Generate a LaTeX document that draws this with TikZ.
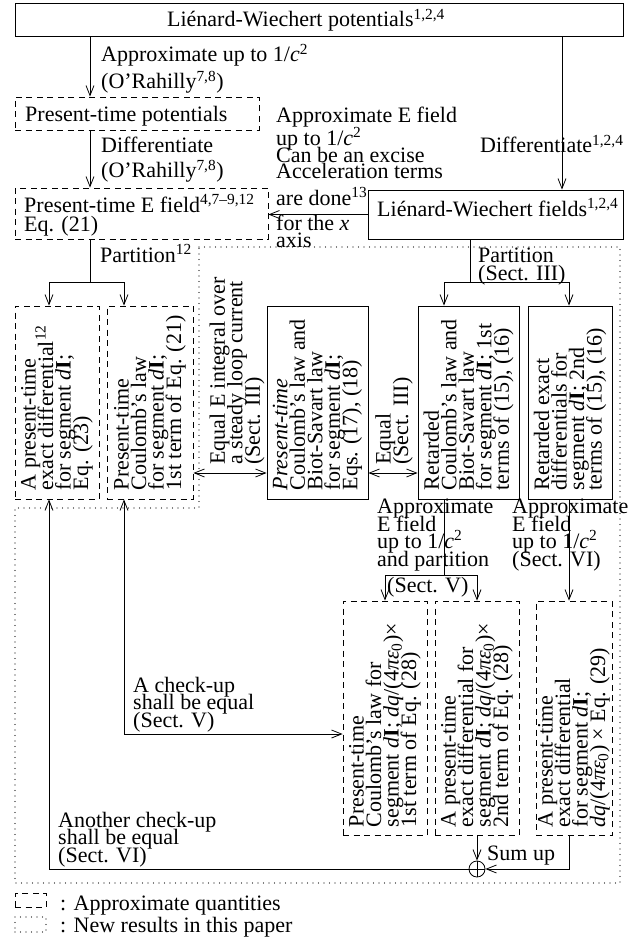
\documentclass[tikz,border=0pt]{standalone}
\usepackage{fontspec}
\setmainfont{Liberation Serif}
\usetikzlibrary{arrows.meta}
\newcommand\fsz{\fontsize{22pt}{17.5pt}\selectfont\lineskiplimit=-40pt\relax}
\newcommand\bx[6]{\node[#2, minimum width={#5-#3}, minimum height={#6-#4}] (#1) at ({(#3+#5)/2},{(#4+#6)/2}) {};}
\newcommand\csq{\textit{c}\textsuperscript{2}}
\newcommand\dI{\textit{d}\textbf{I}}
\newcommand\dqf{\textit{dq}/(4\textit{πε}\textsubscript{0})}
\begin{document}
\begin{tikzpicture}[x=1pt,y=-1pt,
  lbl/.style={font=\fsz, inner sep=0pt, anchor=base west, align=left},
  rot/.style={font=\fsz, inner sep=0pt, rotate=90, anchor=west, align=left},
  sbox/.style={draw, line width=0.8pt, inner sep=0pt},
  dbox/.style={draw, line width=0.8pt, inner sep=0pt, dash pattern=on 6pt off 4.5pt},
  newres/.style={draw, line width=1.3pt, dash pattern=on 0pt off 5.5pt, line cap=round},
  conn/.style={line width=0.8pt},
  arr/.style={conn, -{Straight Barb[length=10pt,width=8pt]}},
  darr/.style={conn, {Straight Barb[length=10pt,width=8pt]}-{Straight Barb[length=10pt,width=8pt]}}]
\useasboundingbox (0,0) rectangle (637,944);
% region of new results
\draw[newres] (199,247) -- (620,247) -- (620,883) -- (15,883) -- (15,508) -- (199,508) -- cycle;
% boxes
\bx{LWP}{sbox}{15}{3}{623}{36}
\node[lbl, anchor=base] (LWPt) at (306,27) {Liénard-Wiechert potentials\textsuperscript{1,2,4}};
\bx{PTP}{dbox}{15}{97}{259}{130}
\node[lbl] (PTPt) at (25,122) {Present-time potentials};
\bx{EF}{dbox}{15}{188}{268}{239}
\node[lbl] (EFt) at (24,231) {Present-time E field\textsuperscript{4,7--9,12}\\[1.5pt]Eq. (21)};
\bx{LWF}{sbox}{368}{190}{623}{239}
\node[lbl] (LWFt) at (377,216) {Liénard-Wiechert fields\textsuperscript{1,2,4}};
\bx{L1}{dbox}{15}{306}{99}{499}
\bx{L2}{dbox}{107}{306}{193}{499}
\bx{M}{sbox}{267}{306}{368}{499}
\bx{R1}{sbox}{418}{306}{519}{499}
\bx{R2}{sbox}{528}{306}{612}{499}
\bx{LB1}{dbox}{343}{601}{427}{835}
\bx{LB2}{dbox}{435}{601}{519}{835}
\bx{LB3}{dbox}{536}{601}{612}{835}
\node[rot] (L1t) at ([yshift=9pt]L1.south) {A present-time\\exact differential\textsuperscript{12}\\for segment \dI;\\Eq. (23)};
\node[rot] (L2t) at ([yshift=9pt]L2.south) {Present-time\\Coulomb's law\\for segment \dI;\\1st term of Eq. (21)};
\node[rot] (Mt) at ([yshift=9pt]M.south) {\textit{Present-time}\\Coulomb's law and\\Biot-Savart law\\for segment \dI;\\Eqs. (17), (18)};
\node[rot] (R1t) at ([yshift=9pt]R1.south) {Retarded\\Coulomb's law and\\Biot-Savart law\\for segment \dI; 1st\\terms of (15), (16)};
\node[rot] (R2t) at ([yshift=9pt]R2.south) {Retarded exact\\differentials for\\segment \dI; 2nd\\terms of (15), (16)};
\node[rot] (LB1t) at ([yshift=8pt]LB1.south) {Present-time\\Coulomb's law for\\segment \dI; \dqf×\\1st term of Eq. (28)};
\node[rot] (LB2t) at ([yshift=8pt]LB2.south) {A present-time\\exact differential for\\segment \dI; \dqf×\\2nd term of Eq. (28)};
\node[rot] (LB3t) at ([yshift=8pt]LB3.south) {A present-time\\exact differential\\for segment \dI;\\\dqf\ × Eq. (29)};
% labels (anchored at the baseline of their last line)
\node[lbl] (la1) at (101,89) {Approximate up to 1/\csq\\[9.5pt](O'Rahilly\textsuperscript{7,8})};
\node[lbl] (la2) at (101,178) {Differentiate\\[7.5pt](O'Rahilly\textsuperscript{7,8})};
\node[lbl] (la3) at (276,247) {Approximate E field\\[5.5pt]up to 1/\csq\\[-0.5pt]Can be an excise\\[-1.5pt]Acceleration terms\\[9.5pt]are done\textsuperscript{13}\\[7.5pt]for the \textit{x}\\[-0.5pt]axis};
\node[lbl] (la4) at (480,153) {Differentiate\textsuperscript{1,2,4}};
\node[lbl] (la5) at (100,262) {Partition\textsuperscript{12}};
\node[lbl] (la6) at (478,280) {Partition\\(Sect. III)};
\node[rot] (la7) at (237,465) {Equal E integral over\\a steady loop current\\(Sect. III)};
\node[rot] (la8) at (394,465) {Equal\\(Sect. III)};
\node[lbl] (la9) at (377,566) {Approximate\\E field\\up to 1/\csq\\and partition};
\node[lbl] (la10) at (387,592) {(Sect. V)};
\node[lbl] (la11) at (512,566) {Approximate\\E field\\up to 1/\csq\\(Sect. VI)};
\node[lbl] (la12) at (133,727) {A check-up\\shall be equal\\(Sect. V)};
\node[lbl] (la13) at (58,862) {Another check-up\\shall be equal\\(Sect. VI)};
\node[lbl] (la14) at (487,860) {Sum up};
% sum node
\node[draw, circle, conn, minimum size=16pt, inner sep=0pt] (sum) at (477,869) {};
\draw[conn] (sum.north) -- (sum.south);
\draw[conn] (sum.west) -- (sum.east);
% coordinates
\coordinate (xa) at (90,0);
\coordinate (xr) at (562,0);
\coordinate (bL) at (90,282);
\coordinate (bLa) at (49,282);
\coordinate (bLb) at (124,282);
\coordinate (bR) at (470,282);
\coordinate (bRa) at (444,282);
\coordinate (bRb) at (569,282);
\coordinate (eqy) at (0,473);
\coordinate (b2) at (444,575);
\coordinate (b2a) at (385,575);
\coordinate (b2b) at (477,575);
\coordinate (r2x) at (569,0);
\coordinate (cc) at (124,734);
\coordinate (ac) at (49,869);
\coordinate (sc) at (569,869);
% connectors
\draw[arr] (LWP.south -| xa) -- (PTP.north -| xa);
\draw[arr] (PTP.south -| xa) -- (EF.north -| xa);
\draw[arr] (LWP.south -| xr) -- (LWF.north -| xr);
\draw[arr] (LWF.west) -- (LWF.west -| EF.east);
\draw[conn] (EF.south -| bL) -- (bL);
\draw[conn] (bLa) -- (bLb);
\draw[arr] (bLa) -- (bLa |- L1.north);
\draw[arr] (bLb) -- (bLb |- L2.north);
\draw[conn] (LWF.south -| bR) -- (bR);
\draw[conn] (bRa) -- (bRb);
\draw[arr] (bRa) -- (bRa |- R1.north);
\draw[arr] (bRb) -- (bRb |- R2.north);
\draw[darr] (L2.east |- eqy) -- (M.west |- eqy);
\draw[darr] (M.east |- eqy) -- (R1.west |- eqy);
\draw[conn] (R1.south -| b2) -- (b2);
\draw[conn] (b2a) -- (b2b);
\draw[arr] (b2a) -- (b2a |- LB1.north);
\draw[arr] (b2b) -- (b2b |- LB2.north);
\draw[arr] (R2.south -| r2x) -- (LB3.north -| r2x);
\draw[darr] (cc |- L2.south) -- (cc) -- (cc -| LB1.west);
\draw[arr] (sum.west) -- (ac) -- (ac |- L1.south);
\draw[arr] (LB2.south) -- (sum.north);
\draw[arr] (LB3.south -| sc) -- (sc) -- (sum.east);
% legend
\bx{lg1}{dbox}{15}{893}{46}{907}
\bx{lg2}{newres}{15}{917}{46}{932}
\node[lbl] (lg1t) at (60,910) {: Approximate quantities};
\node[lbl] (lg2t) at (60,932) {: New results in this paper};
\end{tikzpicture}
\end{document}
